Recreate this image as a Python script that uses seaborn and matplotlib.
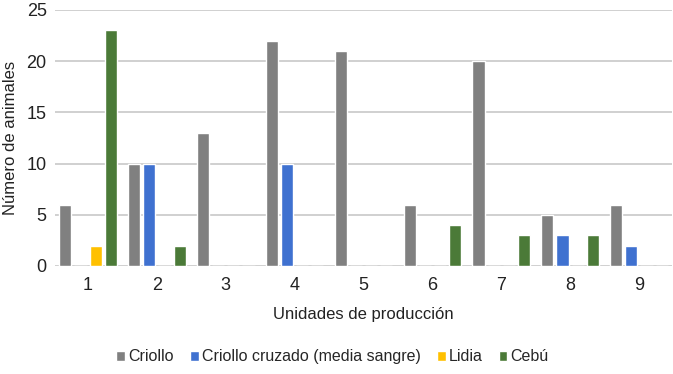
import pandas as pd
import matplotlib
matplotlib.use('Agg')
import matplotlib.pyplot as plt
import seaborn as sns

# Data
unidades = ['1', '2', '3', '4', '5', '6', '7', '8', '9']
criollo = [6, 10, 13, 22, 21, 6, 20, 5, 6]
criollo_cruzado = [0, 10, 0, 10, 0, 0, 0, 3, 2]
lidia = [2, 0, 0, 0, 0, 0, 0, 0, 0]
cebu = [23, 2, 0, 0, 0, 4, 3, 3, 0]

series = ['Criollo', 'Criollo cruzado (media sangre)', 'Lidia', 'Cebú']
colores = ['#808080', '#3f71d0', '#ffc000', '#4b7a38']

df = pd.DataFrame({
    'Unidad': unidades * 4,
    'Raza': [s for s in series for _ in unidades],
    'Animales': criollo + criollo_cruzado + lidia + cebu,
})

sns.set_style('white')
plt.rcParams['font.family'] = ['Liberation Sans', 'DejaVu Sans']

fig = plt.figure(figsize=(6.73, 3.74), dpi=100)
ax = fig.add_axes([55 / 673, 1 - 266 / 374, 617 / 673, 256 / 374])

sns.barplot(data=df, x='Unidad', y='Animales', hue='Raza', palette=colores,
            saturation=1, width=0.88, gap=0.2, ax=ax, legend=True)

ax.set_ylim(0, 25)
ax.set_xlim(-0.48, 8.48)
ax.set_yticks([0, 5, 10, 15, 20, 25])
ax.yaxis.grid(True, color='#c8c8c8', linewidth=1.2)
ax.set_axisbelow(True)
for s in ax.spines.values():
    s.set_visible(False)
ax.tick_params(axis='both', length=0, labelsize=13, colors='#222222', pad=8)
ax.tick_params(axis='y', pad=6)
ax.set_xlabel('Unidades de producción', fontsize=12, color='#222222', labelpad=9)
ax.set_ylabel('Número de animales', fontsize=12, color='#222222', labelpad=6)

ax.legend(loc='upper center', bbox_to_anchor=(0.45, -0.27), ncol=4, frameon=False,
          fontsize=11.5, handlelength=0.55, handleheight=0.55, handletextpad=0.2,
          columnspacing=1.0)

fig.savefig('out.png', dpi=100)
